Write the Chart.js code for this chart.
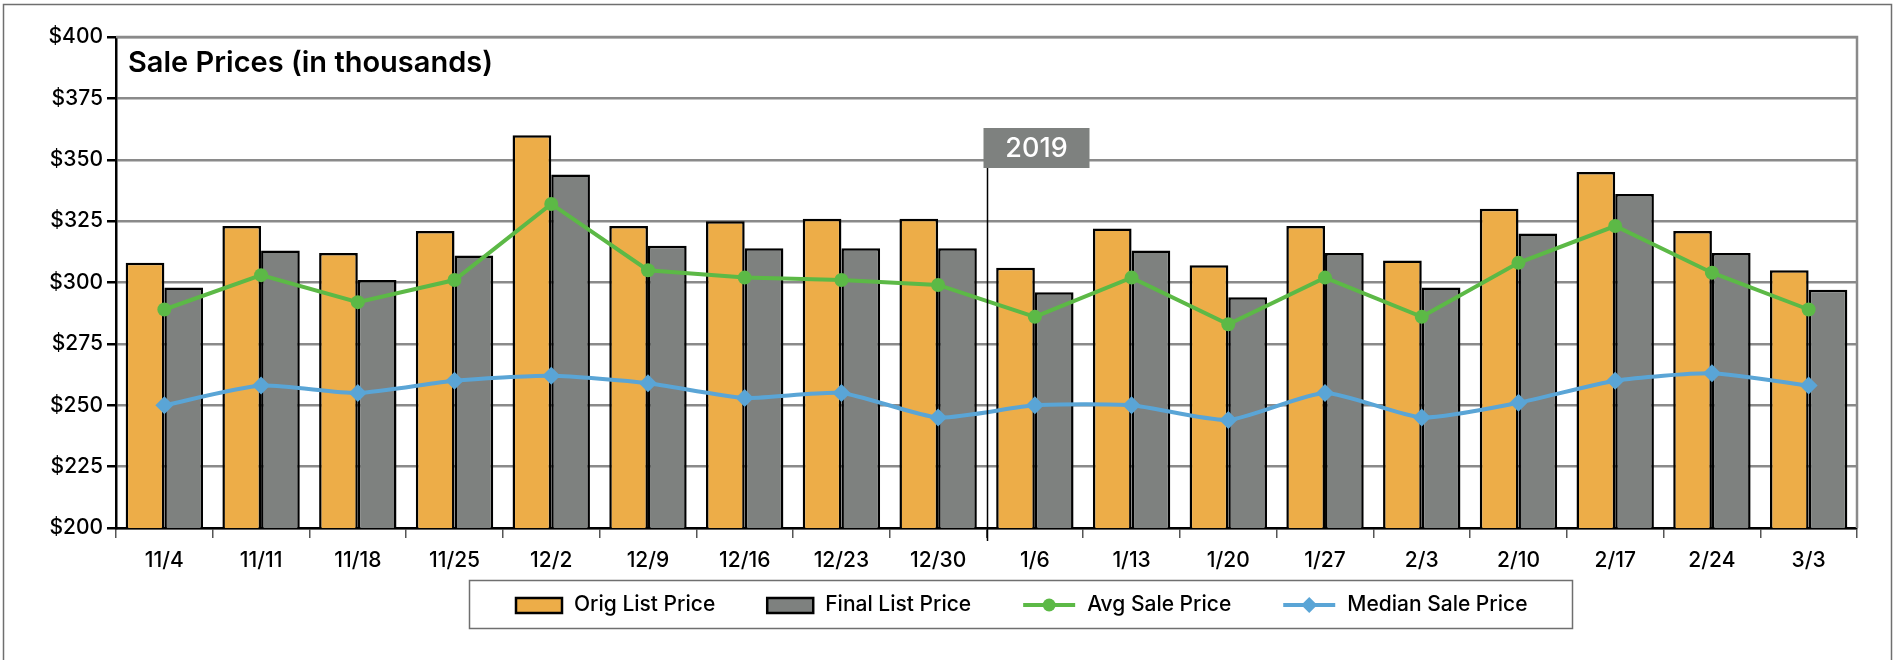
<!DOCTYPE html>
<html>
<head>
<meta charset="utf-8">
<script src="https://cdn.jsdelivr.net/npm/chart.js@4"></script>
<style>
  html, body { margin: 0; padding: 0; background: #fff; }
  #wrap { width: 1895px; height: 660px; position: relative; }
</style>
</head>
<body>
<div id="wrap"><canvas id="salesChart"></canvas></div>
<script>
// dados (milhares)
const weeks = ['11/4', '11/11', '11/18', '11/25', '12/2', '12/9', '12/16', '12/23', '12/30',
               '1/6', '1/13', '1/20', '1/27', '2/3', '2/10', '2/17', '2/24', '3/3'];
const origList   = [308, 323, 312, 321, 360, 323, 325, 326, 326, 306, 322, 307, 323, 309, 330, 345, 321, 305];
const finalList  = [298, 313, 301, 311, 344, 315, 314, 314, 314, 296, 313, 294, 312, 298, 320, 336, 312, 297];
const avgSale    = [289, 303, 292, 301, 332, 305, 302, 301, 299, 286, 302, 283, 302, 286, 308, 323, 304, 289];
const medianSale = [250, 258, 255, 260, 262, 259, 253, 255, 245, 250, 250, 244, 255, 245, 251, 260, 263, 258];
const yTicks = [200, 225, 250, 275, 300, 325, 350, 375, 400];
const yearLabel = '2019';
const yearStartIndex = 9;

const FONT = "Inter, 'Open Sans', sans-serif";
const ORANGE = '#edad48';
const GRAY = '#7e817f';
const GREEN = '#5cb946';
const BLUE = '#5aa5d6';

// moldura externa, bordas do gráfico e marcador do ano
const framePlugin = {
    id: 'frame',
    beforeDraw(chart) {
        const c = chart.ctx;
        c.save();
        c.strokeStyle = '#6f6f6f';
        c.lineWidth = 1.5;
        c.strokeRect(3.5, 4.5, 1888, 700);
        c.restore();
    },
    beforeDatasetsDraw(chart) {
        const c = chart.ctx, a = chart.chartArea;
        c.save();
        c.strokeStyle = '#8a8a8a';
        c.lineWidth = 2.5;
        c.beginPath();
        c.moveTo(a.left, a.top);
        c.lineTo(a.right, a.top);
        c.lineTo(a.right, a.bottom);
        c.stroke();
        c.restore();
    },
    afterDatasetsDraw(chart) {
        const c = chart.ctx, a = chart.chartArea, x = chart.scales.x;
        const lx = Math.round((x.getPixelForValue(yearStartIndex - 1) + x.getPixelForValue(yearStartIndex)) / 2) + 0.5;
        c.save();
        c.strokeStyle = '#000';
        c.lineWidth = 1.5;
        c.beginPath();
        c.moveTo(lx, a.top + 131);
        c.lineTo(lx, a.bottom + 13);
        c.stroke();
        c.fillStyle = '#7e817f';
        c.fillRect(lx - 4, a.top + 91, 106, 40);
        c.fillStyle = '#fff';
        c.font = '500 27px ' + FONT;
        c.textAlign = 'center';
        c.textBaseline = 'middle';
        c.fillText(yearLabel, lx - 4 + 53, a.top + 112);
        // título
        c.fillStyle = '#000';
        c.font = '600 29px ' + FONT;
        c.textAlign = 'left';
        c.fillText('Sale Prices (in thousands)', a.left + 12, a.top + 26);
        c.restore();
    }
};

// legenda desenhada à mão (caixa com marcadores de linha)
const legendPlugin = {
    id: 'boxLegend',
    afterDraw(chart) {
        const c = chart.ctx;
        c.save();
        c.strokeStyle = '#6f6f6f';
        c.lineWidth = 1.5;
        c.strokeRect(469.5, 580.5, 1103, 48);
        c.font = '500 21px ' + FONT;
        c.textBaseline = 'middle';
        const cy = 605;
        let x = 516;
        chart.data.datasets.forEach(ds => {
            if (ds.type === 'bar') {
                c.fillStyle = ds.backgroundColor;
                c.fillRect(x, cy - 7, 46, 15);
                c.strokeStyle = '#000';
                c.lineWidth = 2.5;
                c.strokeRect(x, cy - 7, 46, 15);
            } else {
                c.strokeStyle = ds.borderColor;
                c.lineWidth = 4;
                c.beginPath();
                c.moveTo(x, cy);
                c.lineTo(x + 52, cy);
                c.stroke();
                c.fillStyle = ds.borderColor;
                c.beginPath();
                if (ds.pointStyle === 'rectRot') {
                    c.moveTo(x + 26, cy - 8);
                    c.lineTo(x + 34, cy);
                    c.lineTo(x + 26, cy + 8);
                    c.lineTo(x + 18, cy);
                } else {
                    c.arc(x + 26, cy, 6.5, 0, Math.PI * 2);
                }
                c.fill();
            }
            const sw = ds.type === 'bar' ? 46 : 52;
            c.fillStyle = '#000';
            c.fillText(ds.label, x + sw + 12, cy);
            x += sw + 12 + c.measureText(ds.label).width + 52;
        });
        c.restore();
    }
};

const ctx = document.getElementById('salesChart').getContext('2d');
new Chart(ctx, {
    data: {
        labels: weeks,
        datasets: [
            {
                type: 'bar', label: 'Orig List Price', data: origList,
                backgroundColor: ORANGE, borderColor: '#000', borderWidth: 2.5,
                categoryPercentage: 0.8, barPercentage: 1.0, order: 2
            },
            {
                type: 'bar', label: 'Final List Price', data: finalList,
                backgroundColor: GRAY, borderColor: '#000', borderWidth: 2.5,
                categoryPercentage: 0.8, barPercentage: 1.0, order: 2
            },
            {
                type: 'line', label: 'Avg Sale Price', data: avgSale,
                borderColor: GREEN, backgroundColor: GREEN, borderWidth: 4,
                pointStyle: 'circle', pointRadius: 7, pointBorderWidth: 0,
                tension: 0, order: 1
            },
            {
                type: 'line', label: 'Median Sale Price', data: medianSale,
                borderColor: BLUE, backgroundColor: BLUE, borderWidth: 4,
                pointStyle: 'rectRot', pointRadius: 9, pointBorderWidth: 0,
                tension: 0.2, order: 1
            }
        ]
    },
    options: {
        responsive: true,
        maintainAspectRatio: false,
        animation: false,
        layout: { padding: { left: 0, right: 38, top: 37, bottom: 0 } },
        plugins: {
            legend: { display: false },
            tooltip: { enabled: false }
        },
        scales: {
            x: {
                offset: true,
                grid: { offset: true, drawOnChartArea: false, tickLength: 10, tickColor: '#555', lineWidth: 1.5 },
                border: { color: '#000', width: 2.5 },
                ticks: { color: '#000', font: { family: FONT, size: 21, weight: 500 }, padding: 10, maxRotation: 0 },
                afterFit: s => { s.height = 132; }
            },
            y: {
                min: 200, max: 400,
                afterBuildTicks: s => { s.ticks = yTicks.map(v => ({ value: v })); },
                grid: { color: '#8a8a8a', lineWidth: 2.5, tickLength: 9, tickColor: '#000' },
                border: { color: '#000', width: 2.5 },
                ticks: {
                    color: '#000', padding: 4,
                    font: { family: FONT, size: 21, weight: 500 },
                    callback: v => '$' + v
                },
                afterFit: s => { s.width = 116; }
            }
        }
    },
    plugins: [framePlugin, legendPlugin]
});
</script>
</body>
</html>
